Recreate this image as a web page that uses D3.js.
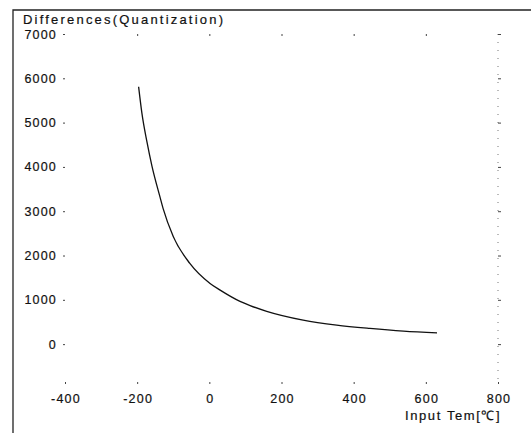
<!DOCTYPE html>
<meta charset="utf-8">
<style>
body { margin: 0; background: #fff; }
svg text { font-family: "Liberation Sans", Arial, sans-serif; fill: #111; stroke: #111; stroke-width: 0.2px; }
.lbl { font-size: 12.5px; letter-spacing: 1.2px; }
</style>
<body>
<script src="https://d3js.org/d3.v7.min.js"></script>
<script>
// curve
var temps = [-196, -187, -173, -159, -137, -128, -100, -54, 2, 30, 85, 113, 159, 260, 353, 445, 538, 631];
var diffs = [5810, 5220, 4570, 4020, 3330, 3060, 2430, 1822, 1370, 1219, 965, 870, 740, 542, 429, 354, 294, 255];
var xTicks = [-400, -200, 0, 200, 400, 600, 800];
var yTicks = [0, 1000, 2000, 3000, 4000, 5000, 6000, 7000];

var W = 531, H = 433;
var plotLeft = 65, plotRight = 498, plotTop = 34, plotBottom = 384;

var svg = d3.select("body").append("svg")
    .attr("width", W)
    .attr("height", H);

// outer frame (left + top edges)
svg.append("path")
    .attr("d", "M13,433 L13,10 L531,10")
    .attr("fill", "none")
    .attr("stroke", "#222")
    .attr("stroke-width", 1.3);

var x = d3.scaleLinear().domain([-400, 800]).range([plotLeft, plotRight]);
var y = d3.scaleLinear().domain([-900, 7000]).range([plotBottom, plotTop]);

// faint dotted right border
svg.append("line")
    .attr("x1", plotRight).attr("x2", plotRight)
    .attr("y1", plotTop).attr("y2", plotBottom)
    .attr("stroke", "#777")
    .attr("stroke-width", 1)
    .attr("stroke-dasharray", "1,7");

function tickStyle(g) {
  g.select(".domain").remove();
  g.selectAll(".tick line").attr("stroke", "#444").attr("stroke-width", 1);
  g.selectAll(".tick text").remove();
}

// small tick marks on all four sides
svg.append("g").attr("transform", "translate(" + plotLeft + ",0)")
    .call(d3.axisLeft(y).tickValues(yTicks).tickSize(2)).call(tickStyle);
svg.append("g").attr("transform", "translate(" + plotRight + ",0)")
    .call(d3.axisRight(y).tickValues(yTicks).tickSize(3)).call(tickStyle);
svg.append("g").attr("transform", "translate(0," + plotBottom + ")")
    .call(d3.axisTop(x).tickValues(xTicks).tickSize(2)).call(tickStyle);
svg.append("g").attr("transform", "translate(0," + plotTop + ")")
    .call(d3.axisBottom(x).tickValues(xTicks.slice(1, 6)).tickSize(2)).call(tickStyle);

// tick labels
svg.selectAll(".ylab").data(yTicks).enter().append("text")
    .attr("class", "lbl")
    .attr("text-anchor", "end")
    .attr("x", 57)
    .attr("y", function(d) { return y(d) + 4.5; })
    .text(function(d) { return d; });

svg.selectAll(".xlab").data(xTicks).enter().append("text")
    .attr("class", "lbl")
    .attr("text-anchor", "middle")
    .attr("x", function(d) { return x(d) + 1; })
    .attr("y", 403)
    .text(function(d) { return d; });

// titles
svg.append("text")
    .attr("x", 23).attr("y", 24)
    .style("font-size", "13px")
    .style("letter-spacing", "2.2px")
    .text("Differences(Quantization)");

svg.append("text")
    .attr("x", 405).attr("y", 420)
    .style("font-size", "13px")
    .style("letter-spacing", "1.6px")
    .text("Input Tem[℃]");

// the curve
var pts = temps.map(function(t, i) { return [t, diffs[i]]; });
var line = d3.line()
    .x(function(d) { return x(d[0]); })
    .y(function(d) { return y(d[1]); })
    .curve(d3.curveMonotoneX);

svg.append("path")
    .datum(pts)
    .attr("d", line)
    .attr("fill", "none")
    .attr("stroke", "#111")
    .attr("stroke-width", 1.3);
</script>
</body>
